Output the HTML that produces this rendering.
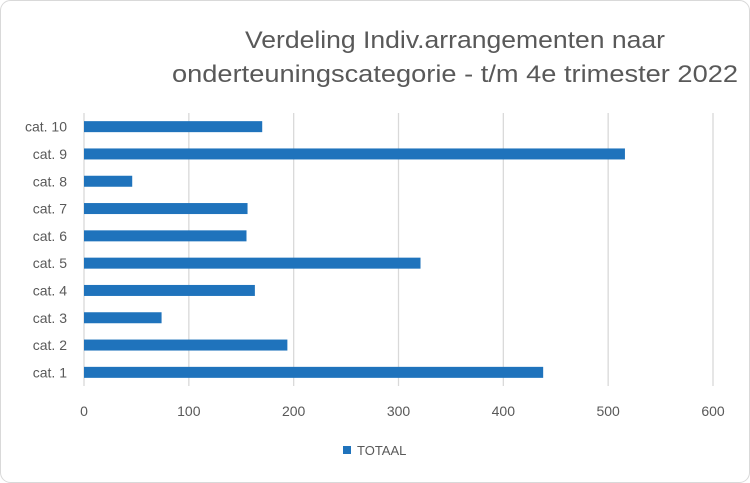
<!DOCTYPE html>
<html><head><meta charset="utf-8"><style>
html,body{margin:0;padding:0;background:#fff;}
svg{display:block;font-family:"Liberation Sans",sans-serif;}
</style></head><body>
<svg id="chart" width="750" height="483" viewBox="0 0 750 483">
<rect x="0.5" y="0.5" width="749" height="482" rx="10" fill="#fff" stroke="#d9d9d9"/>
<text x="455" y="48" text-anchor="middle" font-size="24" fill="#595959" textLength="420" lengthAdjust="spacingAndGlyphs">Verdeling Indiv.arrangementen naar</text>
<text x="455" y="82" text-anchor="middle" font-size="24" fill="#595959" textLength="566" lengthAdjust="spacingAndGlyphs">onderteuningscategorie - t/m 4e trimester 2022</text>
<g id="grid"></g><g id="bars"></g><g id="ylabels"></g><g id="xlabels"></g>
<rect x="343" y="446" width="8" height="8" fill="#1f73bc"/>
<text x="357" y="455" font-size="13" fill="#595959">TOTAAL</text>
</svg>
<script>
const categories = ["cat. 1","cat. 2","cat. 3","cat. 4","cat. 5","cat. 6","cat. 7","cat. 8","cat. 9","cat. 10"];
const values = [438,194,74,163,321,155,156,46,516,170];
const xTicks = [0,100,200,300,400,500,600];
const NS="http://www.w3.org/2000/svg";
const x0=84,x1=713,xMax=600,plotTop=113,plotBottom=386;
const band=(plotBottom-plotTop)/categories.length;
function xs(v){return x0+(x1-x0)*v/xMax;}
function ys(i){return plotBottom-band*(i+0.5);}
function mk(t,a,p){const e=document.createElementNS(NS,t);for(const k in a)e.setAttribute(k,a[k]);p.appendChild(e);return e;}
const g=document.getElementById('grid'),b=document.getElementById('bars'),yl=document.getElementById('ylabels'),xl=document.getElementById('xlabels');
xTicks.forEach(t=>{
  const l=mk('line',{x1:xs(t),x2:xs(t),y1:plotTop,y2:plotBottom,stroke:'#d9d9d9','stroke-width':1.3},g);
  
  
  const tx=mk('text',{x:xs(t),y:416,'text-anchor':'middle','font-size':14,fill:'#595959'},xl);
  tx.textContent=t;
  
  
});
categories.forEach((c,i)=>{
  const r=mk('rect',{x:x0,y:ys(i)-5.5,width:xs(values[i])-x0,height:11,fill:'#1f73bc'},b);
  
  
  const tx=mk('text',{x:67,y:ys(i)+5,'text-anchor':'end','font-size':14,fill:'#595959'},yl);
  tx.textContent=c;
  
  
});
</script>
</body></html>
